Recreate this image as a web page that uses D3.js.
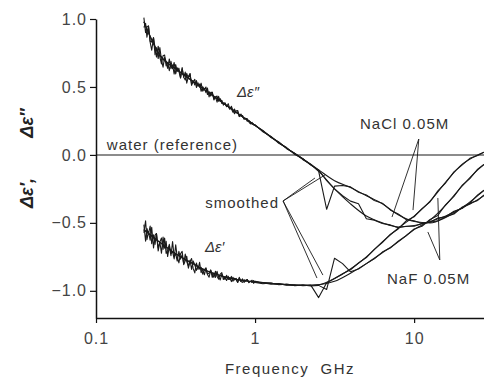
<!DOCTYPE html>
<html>
<head>
<meta charset="utf-8">
<script src="https://cdn.jsdelivr.net/npm/d3@7"></script>
<style>
  body { margin: 0; background: #fff; }
  svg { display: block; }
</style>
</head>
<body>
<div id="chart"></div>
<script>
// raw traces (frequency in GHz)
const freqRaw = [0.200, 0.205, 0.209, 0.214, 0.219, 0.224, 0.230, 0.235, 0.240, 0.246,
  0.252, 0.258, 0.264, 0.270, 0.276, 0.282, 0.289, 0.296, 0.303, 0.310,
  0.317, 0.324, 0.332, 0.340, 0.348, 0.356, 0.364, 0.372, 0.381, 0.390,
  0.399, 0.408, 0.418, 0.428, 0.438, 0.448, 0.458, 0.469, 0.480, 0.491,
  0.502, 0.514, 0.526, 0.538, 0.551, 0.564, 0.577, 0.590, 0.604, 0.618,
  0.632, 0.647, 0.662, 0.678, 0.693, 0.710, 0.726, 0.743, 0.760, 0.778,
  0.796, 0.815, 0.834, 0.853, 0.873, 0.893, 0.914, 0.935, 0.957, 0.979, 1.00,
  1.12, 1.26, 1.41, 1.58, 1.78, 2.00, 2.24, 2.51, 2.82, 3.16, 3.55, 3.98, 4.47, 5.01,
  5.62, 6.31, 7.08, 7.94, 8.91, 10.0, 11.2, 12.6, 14.1, 15.8, 17.8, 20.0, 22.4, 25.1, 27.5];

const rawDppNaCl = [1.01, 0.90, 0.94, 0.95, 0.83, 0.77, 0.86, 0.79, 0.72, 0.80,
  0.72, 0.67, 0.73, 0.735, 0.655, 0.682, 0.62, 0.688, 0.635, 0.68,
  0.596, 0.641, 0.615, 0.566, 0.634, 0.572, 0.609, 0.528, 0.578, 0.597,
  0.521, 0.537, 0.556, 0.496, 0.53, 0.498, 0.528, 0.469, 0.488, 0.458,
  0.492, 0.427, 0.46, 0.461, 0.414, 0.426, 0.388, 0.431, 0.394, 0.402,
  0.366, 0.379, 0.355, 0.377, 0.34, 0.34, 0.314, 0.337, 0.309, 0.317,
  0.284, 0.301, 0.281, 0.266, 0.27, 0.247, 0.255, 0.242, 0.226, 0.227, 0.217,
  0.18, 0.128, 0.095, 0.046, 0.01, -0.035, -0.068, -0.12, -0.40, -0.23, -0.225, -0.235, -0.275, -0.295,
  -0.335, -0.355, -0.405, -0.435, -0.475, -0.485, -0.505, -0.495, -0.485, -0.455, -0.435, -0.385, -0.355, -0.295, -0.26];

const rawDppNaF = [0.938, 0.968, 0.866, 0.938, 0.836, 0.83, 0.864, 0.737, 0.789, 0.709,
  0.79, 0.697, 0.646, 0.717, 0.687, 0.637, 0.706, 0.635, 0.662, 0.595,
  0.664, 0.614, 0.638, 0.567, 0.643, 0.572, 0.551, 0.60, 0.561, 0.598,
  0.512, 0.546, 0.514, 0.547, 0.506, 0.522, 0.468, 0.502, 0.482, 0.50,
  0.444, 0.466, 0.433, 0.461, 0.405, 0.426, 0.433, 0.395, 0.414, 0.378,
  0.378, 0.383, 0.359, 0.357, 0.336, 0.358, 0.326, 0.303, 0.325, 0.327,
  0.282, 0.289, 0.29, 0.262, 0.267, 0.267, 0.242, 0.228, 0.239, 0.221, 0.222,
  0.17, 0.136, 0.085, 0.054, 0.003, -0.028, -0.075, -0.11, -0.19, -0.25, -0.30, -0.34, -0.36, -0.47,
  -0.48, -0.505, -0.515, -0.535, -0.525, -0.525, -0.505, -0.495, -0.465, -0.455, -0.415, -0.395, -0.355, -0.335, -0.295];

const rawDpNaCl = [-0.573, -0.485, -0.623, -0.565, -0.628, -0.533, -0.685, -0.59, -0.578, -0.684,
  -0.641, -0.724, -0.605, -0.687, -0.635, -0.748, -0.673, -0.741, -0.637, -0.75,
  -0.728, -0.781, -0.709, -0.767, -0.735, -0.802, -0.729, -0.786, -0.818, -0.775,
  -0.843, -0.78, -0.808, -0.85, -0.818, -0.84, -0.827, -0.877, -0.846, -0.83,
  -0.88, -0.90, -0.849, -0.874, -0.901, -0.856, -0.893, -0.914, -0.878, -0.866,
  -0.917, -0.897, -0.924, -0.893, -0.916, -0.894, -0.93, -0.908, -0.918, -0.938,
  -0.905, -0.931, -0.912, -0.938, -0.923, -0.917, -0.937, -0.932, -0.922, -0.945, -0.929,
  -0.94, -0.952, -0.946, -0.958, -0.955, -0.963, -0.958, -1.05, -0.94, -0.91, -0.875, -0.845, -0.795, -0.755,
  -0.695, -0.645, -0.585, -0.545, -0.485, -0.455, -0.395, -0.345, -0.265, -0.205, -0.125, -0.075, -0.025, -0.005, 0.02];

const rawDpNaF = [-0.513, -0.635, -0.54, -0.58, -0.523, -0.653, -0.588, -0.658, -0.578, -0.707,
  -0.641, -0.611, -0.695, -0.612, -0.725, -0.703, -0.658, -0.726, -0.712, -0.765,
  -0.661, -0.751, -0.794, -0.727, -0.71, -0.807, -0.779, -0.746, -0.833, -0.785,
  -0.763, -0.835, -0.868, -0.795, -0.843, -0.79, -0.866, -0.841, -0.882, -0.836,
  -0.877, -0.87, -0.846, -0.901, -0.868, -0.901, -0.857, -0.899, -0.92, -0.878,
  -0.896, -0.917, -0.886, -0.917, -0.904, -0.932, -0.90, -0.92, -0.908, -0.938,
  -0.901, -0.931, -0.938, -0.919, -0.928, -0.917, -0.94, -0.929, -0.939, -0.924, -0.939,
  -0.948, -0.943, -0.955, -0.951, -0.962, -0.956, -0.964, -0.96, -0.99, -0.76, -0.80, -0.86, -0.84, -0.80,
  -0.765, -0.715, -0.685, -0.635, -0.595, -0.545, -0.525, -0.475, -0.445, -0.365, -0.305, -0.225, -0.175, -0.105, -0.07];

// smoothed traces
const freqSmooth = [0.2, 0.25, 0.32, 0.4, 0.5, 0.63, 0.8, 1.0, 1.26, 1.58, 2.0, 2.51,
  3.16, 3.98, 5.01, 6.31, 7.94, 10.0, 12.6, 15.8, 20.0, 25.1, 27.5];
const smDppNaCl = [0.98, 0.74, 0.63, 0.547, 0.466, 0.382, 0.296, 0.217, 0.132, 0.05, -0.03, -0.11,
  -0.19, -0.24, -0.30, -0.36, -0.44, -0.49, -0.50, -0.46, -0.39, -0.30, -0.26];
const smDppNaF = [0.98, 0.74, 0.63, 0.547, 0.466, 0.382, 0.296, 0.217, 0.132, 0.05, -0.03, -0.12,
  -0.25, -0.36, -0.45, -0.50, -0.53, -0.52, -0.49, -0.45, -0.39, -0.33, -0.30];
const smDpNaCl = [-0.55, -0.64, -0.73, -0.795, -0.855, -0.895, -0.92, -0.935, -0.945, -0.955, -0.96, -0.955,
  -0.91, -0.84, -0.75, -0.64, -0.54, -0.45, -0.34, -0.20, -0.07, 0.0, 0.02];
const smDpNaF = [-0.55, -0.64, -0.73, -0.795, -0.855, -0.895, -0.92, -0.935, -0.945, -0.955, -0.96, -0.955,
  -0.93, -0.87, -0.80, -0.72, -0.64, -0.55, -0.48, -0.37, -0.23, -0.11, -0.07];

// axis ticks
const xMajor = [0.1, 1, 10];
const xMinor = [0.2, 0.3, 0.4, 0.5, 0.6, 0.7, 0.8, 0.9, 2, 3, 4, 5, 6, 7, 8, 9, 20];
const yMajor = [-1.0, -0.5, 0.0, 0.5, 1.0];
const yMinor = [-0.75, -0.25, 0.25, 0.75];

// annotations, [GHz, value]
const labels = [
  {text: "water (reference)", at: [0.117, 0.036], anchor: "start"},
  {text: "smoothed", at: [1.415, -0.39], anchor: "end"},
  {text: "NaCl 0.05M", at: [4.57, 0.19], anchor: "start"},
  {text: "NaF 0.05M", at: [6.75, -0.95], anchor: "start"}
];
const leaders = [
  {from: [1.50, -0.339], to: [[2.38, -0.17], [2.75, -0.148], [2.45, -0.906], [2.67, -0.884]]},
  {from: [10.7, 0.117], to: [[7.26, -0.457], [9.84, -0.406]]},
  {from: [14.5, -0.773], to: [[12.2, -0.567], [14.1, -0.317]]}
];

const width = 484, height = 383;
const margin = {top: 19, right: 0, bottom: 65, left: 96};

const svg = d3.select("#chart").append("svg")
  .attr("width", width)
  .attr("height", height);

const x = d3.scaleLog().domain([0.1, 27.5]).range([margin.left, width - margin.right]);
const y = d3.scaleLinear().domain([-1.2, 1.0]).range([height - margin.bottom, margin.top]);

const font = '"Liberation Sans", Arial, sans-serif';
const ink = "#1a1a1a";

// water reference line
svg.append("line")
  .attr("x1", x(0.1)).attr("x2", x(27.5))
  .attr("y1", y(0)).attr("y2", y(0))
  .attr("stroke", "#8c8c8c")
  .attr("stroke-width", 2);

// curves
const rawLine = d3.line()
  .x(function(d) { return x(d[0]); })
  .y(function(d) { return y(d[1]); });
const smoothLine = d3.line()
  .x(function(d) { return x(d[0]); })
  .y(function(d) { return y(d[1]); })
  .curve(d3.curveMonotoneX);

[rawDppNaCl, rawDppNaF, rawDpNaCl, rawDpNaF].forEach(function(vals) {
  svg.append("path")
    .datum(freqRaw.map(function(f, i) { return [f, vals[i]]; }))
    .attr("d", rawLine)
    .attr("fill", "none")
    .attr("stroke", ink)
    .attr("stroke-width", 1.1)
    .attr("stroke-linejoin", "round");
});

[smDppNaCl, smDppNaF, smDpNaCl, smDpNaF].forEach(function(vals) {
  svg.append("path")
    .datum(freqSmooth.map(function(f, i) { return [f, vals[i]]; }))
    .attr("d", smoothLine)
    .attr("fill", "none")
    .attr("stroke", ink)
    .attr("stroke-width", 1.1);
});

// leader lines
leaders.forEach(function(l) {
  l.to.forEach(function(t) {
    svg.append("line")
      .attr("x1", x(l.from[0])).attr("y1", y(l.from[1]))
      .attr("x2", x(t[0])).attr("y2", y(t[1]))
      .attr("stroke", ink)
      .attr("stroke-width", 0.9);
  });
});

// text labels
svg.selectAll(".note")
  .data(labels)
  .enter()
  .append("text")
  .attr("class", "note")
  .attr("x", function(d) { return x(d.at[0]); })
  .attr("y", function(d) { return y(d.at[1]); })
  .attr("text-anchor", function(d) { return d.anchor; })
  .attr("font-family", font)
  .attr("font-size", 15)
  .attr("letter-spacing", 1)
  .attr("fill", "#333")
  .text(function(d) { return d.text; });

svg.append("text")
  .attr("x", x(0.77)).attr("y", y(0.426))
  .attr("font-family", font).attr("font-size", 15).attr("font-style", "italic")
  .attr("fill", "#333")
  .text("\u0394\u03b5\u2033");
svg.append("text")
  .attr("x", x(0.484)).attr("y", y(-0.714))
  .attr("font-family", font).attr("font-size", 15).attr("font-style", "italic")
  .attr("fill", "#333")
  .text("\u0394\u03b5\u2032");

// x axis
const xAxis = svg.append("g")
  .attr("transform", "translate(0," + y(-1.2) + ")");
xAxis.call(d3.axisBottom(x).tickValues(xMinor).tickSize(3).tickSizeOuter(0).tickFormat(""));
xAxis.call(d3.axisBottom(x).tickValues(xMajor).tickSize(5).tickSizeOuter(0)
  .tickFormat(function(d) { return d3.format("~g")(d); }));

// y axis
const yAxis = svg.append("g")
  .attr("transform", "translate(" + x(0.1) + ",0)");
yAxis.call(d3.axisLeft(y).tickValues(yMinor).tickSize(3).tickSizeOuter(0).tickFormat(""));
yAxis.call(d3.axisLeft(y).tickValues(yMajor).tickSize(6).tickSizeOuter(0).tickFormat(d3.format(".1f")));

svg.selectAll(".domain").attr("stroke", "#111").attr("stroke-width", 1.5);
svg.selectAll(".tick line").attr("stroke", "#111").attr("stroke-width", 1.2);
svg.selectAll(".tick text")
  .attr("font-family", font)
  .attr("font-size", 16)
  .attr("letter-spacing", 1)
  .attr("fill", "#444");
xAxis.selectAll(".tick text").attr("dy", "1.1em");
yAxis.selectAll(".tick text").attr("x", -9);

// axis titles
svg.append("text")
  .attr("x", (x(0.1) + x(27.5)) / 2)
  .attr("y", 374)
  .attr("text-anchor", "middle")
  .attr("font-family", font)
  .attr("font-size", 15)
  .attr("letter-spacing", 1.5)
  .attr("fill", "#333")
  .attr("xml:space", "preserve")
  .text("Frequency  GHz");

svg.append("text")
  .attr("transform", "translate(33,193) rotate(-90)")
  .attr("text-anchor", "middle")
  .attr("font-family", font)
  .attr("font-size", 18)
  .attr("font-weight", "bold")
  .attr("font-style", "italic")
  .attr("fill", "#222")
  .text("\u0394\u03b5\u2032,");
svg.append("text")
  .attr("transform", "translate(33,123) rotate(-90)")
  .attr("text-anchor", "middle")
  .attr("font-family", font)
  .attr("font-size", 18)
  .attr("font-weight", "bold")
  .attr("font-style", "italic")
  .attr("fill", "#222")
  .text("\u0394\u03b5\u2033");
</script>
</body>
</html>
